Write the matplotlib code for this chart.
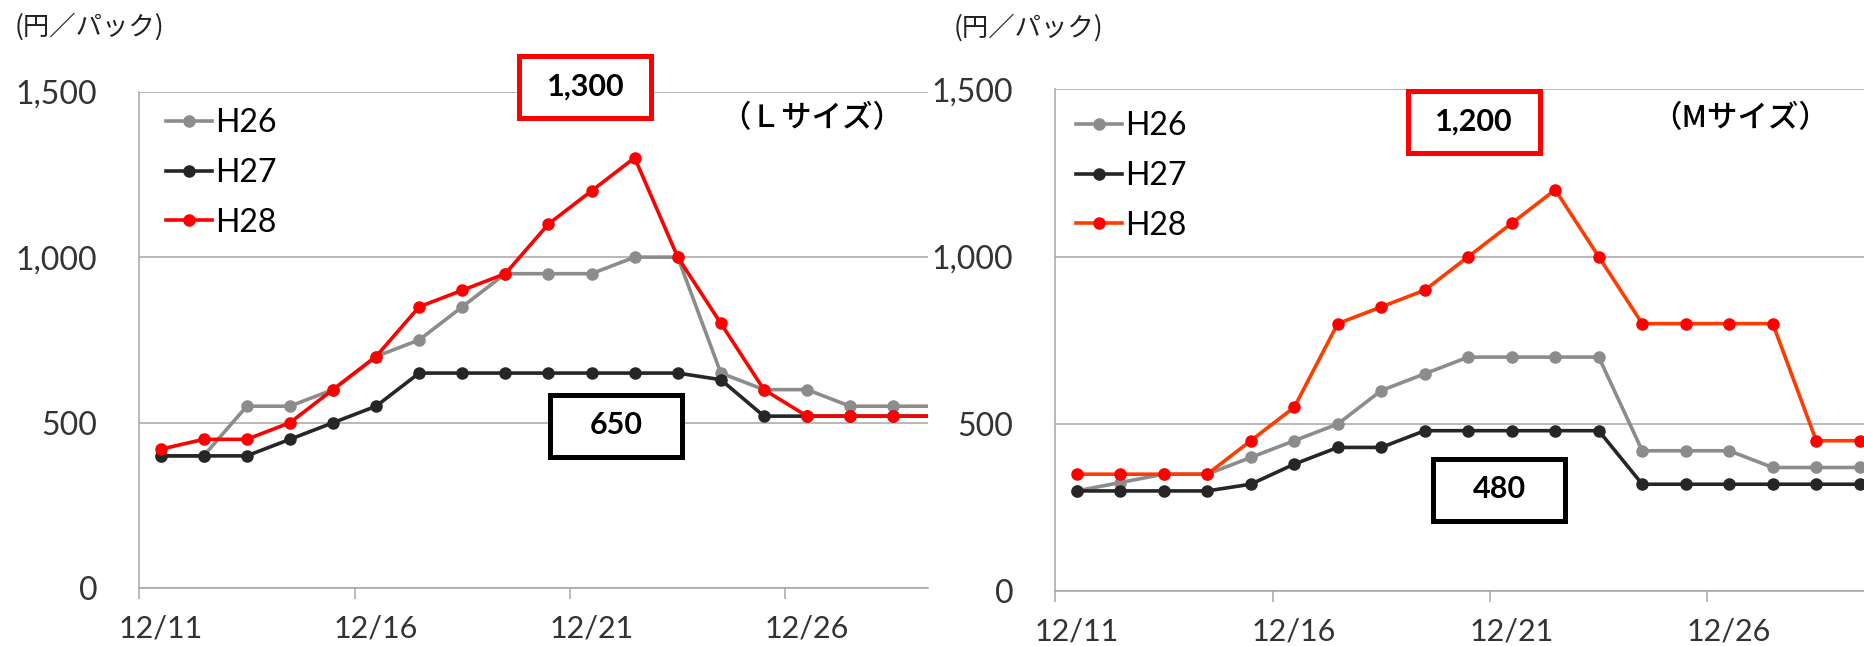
import numpy as np
import matplotlib.pyplot as plt
from matplotlib.patches import Rectangle

# データ（12/11〜12/29）
days = ['12/11', '12/12', '12/13', '12/14', '12/15', '12/16', '12/17', '12/18', '12/19', '12/20',
        '12/21', '12/22', '12/23', '12/24', '12/25', '12/26', '12/27', '12/28', '12/29']
tick_days = ['12/11', '12/16', '12/21', '12/26']
series = ['H26', 'H27', 'H28']

h26_L = [400, 400, 550, 550, 600, 700, 750, 850, 950, 950, 950, 1000, 1000, 650, 600, 600, 550, 550, 550]
h27_L = [400, 400, 400, 450, 500, 550, 650, 650, 650, 650, 650, 650, 650, 630, 520, 520, 520, 520, 520]
h28_L = [420, 450, 450, 500, 600, 700, 850, 900, 950, 1100, 1200, 1300, 1000, 800, 600, 520, 520, 520, 520]

h26_M = [300, 325, 350, 350, 400, 450, 500, 600, 650, 700, 700, 700, 700, 420, 420, 420, 370, 370, 370]
h27_M = [300, 300, 300, 300, 320, 380, 430, 430, 480, 480, 480, 480, 480, 320, 320, 320, 320, 320, 320]
h28_M = [350, 350, 350, 350, 450, 550, 800, 850, 900, 1000, 1100, 1200, 1000, 800, 800, 800, 800, 450, 450]

W, H = 1865, 646
JP = ['Noto Sans CJK JP', 'DejaVu Sans']
NUM = ['Lato', 'DejaVu Sans']
GRID = '#a6a6a6'


def fx(p):
    return p / W


def fy(p):
    return 1 - p / H


fig = plt.figure(figsize=(W / 100, H / 100), dpi=100)


def panel(left, right, top, bottom, day_px, data, colors, mcolors, leg_xy):
    ax = fig.add_axes([fx(left), fy(bottom), (right - left) / W, (bottom - top) / H])
    x = np.arange(len(days)) + 0.5
    for vals, name, c, mc in zip(data, series, colors, mcolors):
        ax.plot(x, vals, '-o', color=c, mfc=mc, mec=mc, lw=2.6, ms=8, label=name)
    ax.set_xlim(0, (right - left) / day_px)
    ax.set_ylim(0, 1500)
    ax.set_yticks([0, 500, 1000, 1500])
    ax.set_yticklabels(['0', '500', '1,000', '1,500'], family=NUM, fontsize=23, color='#333333')
    ax.yaxis.grid(True, color=GRID, lw=1.1)
    ax.set_axisbelow(True)
    ax.tick_params(axis='y', length=0, pad=30)
    # 目盛り線は区切り、ラベルは日付の中央
    idx = [days.index(d) for d in tick_days]
    ax.set_xticks(idx)
    ax.set_xticklabels([])
    ax.set_xticks([i + 0.5 for i in idx], minor=True)
    ax.set_xticklabels(tick_days, minor=True, family=NUM, fontsize=22, color='#333333')
    ax.tick_params(axis='x', which='major', length=8, color=GRID, width=1.1)
    ax.tick_params(axis='x', which='minor', length=0, pad=19)
    for s in ['top', 'right']:
        ax.spines[s].set_visible(False)
    for s in ['left', 'bottom']:
        ax.spines[s].set_color(GRID)
        ax.spines[s].set_linewidth(1.1)
    ax.legend(loc='upper left', bbox_to_anchor=(fx(leg_xy[0]), fy(leg_xy[1])),
              bbox_transform=fig.transFigure, frameon=False, prop={'family': NUM, 'size': 23},
              handlelength=1.45, handletextpad=0.1, labelspacing=0.62, borderpad=0, borderaxespad=0)
    return ax


panel(139, 928, 91.5, 588.4, 43.1, [h26_L, h27_L, h28_L],
      ['#8c8c8c', '#262626', '#ff0000'], ['#8c8c8c', '#262626', '#ff0000'], (166, 108))
panel(1055, 1865, 89.4, 591.3, 43.5, [h26_M, h27_M, h28_M],
      ['#8c8c8c', '#262626', '#ff3b00'], ['#8c8c8c', '#262626', '#ff0000'], (1076, 111))


def box(cx, cy, text, ec):
    w, h = 132, 62
    fig.add_artist(Rectangle((fx(cx - w / 2), fy(cy + h / 2)), w / W, h / H, transform=fig.transFigure,
                             facecolor='white', edgecolor=ec, lw=3.6, zorder=5))
    fig.text(fx(cx), fy(cy), text, ha='center', va='center', family=NUM, fontsize=22,
             fontweight='bold', color='black', zorder=6)


box(585.5, 87, '1,300', '#ff0000')
box(616, 425.5, '650', 'black')
box(1474, 122, '1,200', '#ff0000')
box(1499, 489.5, '480', 'black')

fig.text(fx(89), fy(27), '(円／パック)', ha='center', va='center', family=JP, fontsize=19, color='#222222')
fig.text(fx(1028), fy(28), '(円／パック)', ha='center', va='center', family=JP, fontsize=19, color='#222222')
fig.text(fx(812), fy(118), '（Ｌサイズ）', ha='center', va='center', family=JP, fontsize=22,
         fontweight='medium', color='black')
fig.text(fx(1740), fy(118), '（Mサイズ）', ha='center', va='center', family=JP, fontsize=22,
         fontweight='medium', color='black')

fig.savefig('out.png', dpi=100)
